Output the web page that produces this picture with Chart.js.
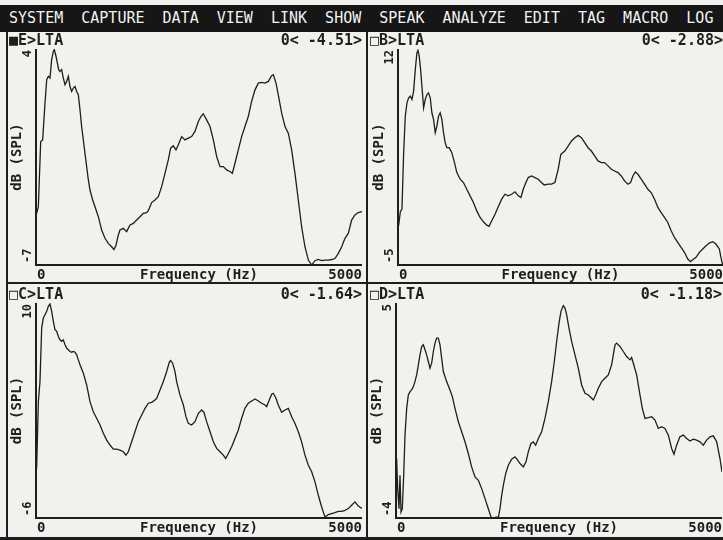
<!DOCTYPE html>
<html>
<head>
<meta charset="utf-8">
<script src="https://cdn.jsdelivr.net/npm/chart.js@4"></script>
<style>
  html, body { margin: 0; padding: 0; width: 723px; height: 540px; overflow: hidden; background: #f1f1ee; }
  #menu { position: absolute; left: 0; top: 5px; width: 723px; height: 27px; background: #161616; color: #f2f2f2;
          font: 15px "DejaVu Sans Mono", monospace; line-height: 27px; white-space: pre; }
  .rule { position: absolute; background: #1d1d1d; }
  canvas { position: absolute; left: 0; top: 0; }
</style>
</head>
<body>
<div id="menu"> SYSTEM  CAPTURE  DATA  VIEW  LINK  SHOW  SPEAK  ANALYZE  EDIT  TAG  MACRO  LOG</div>
<div class="rule" style="left:6px;top:32px;width:2px;height:508px"></div>
<div class="rule" style="left:366px;top:32px;width:2px;height:508px"></div>
<div class="rule" style="left:6px;top:282px;width:717px;height:2px"></div>
<div class="rule" style="left:0;top:537px;width:723px;height:3px"></div>
<canvas id="cE" width="723" height="540"></canvas>
<canvas id="cB" width="723" height="540"></canvas>
<canvas id="cC" width="723" height="540"></canvas>
<canvas id="cD" width="723" height="540"></canvas>
<script>
// Long-term average spectra, four channels: frequency (Hz) and level (dB SPL)
const freqRange = [0, 5000];
const freqTickLabels = ['0', '5000'];
const freqTitle = 'Frequency (Hz)';
const levelTitle = 'dB (SPL)';

// Channel E
const eTitle = '\u25A0E>LTA';
const eReadout = '0< -4.51>';
const eRange = [-7, 4];
const eFreq = [10,36,72,102,138,164,189,215,240,266,
  281,307,327,348,368,394,419,445,470,496,
  521,547,573,598,624,649,675,700,726,751,
  777,803,828,869,905,956,1007,1058,1109,1160,
  1196,1227,1263,1288,1339,1390,1442,1493,1544,1595,
  1646,1697,1723,1774,1825,1876,1927,1978,2029,2065,
  2106,2147,2183,2234,2285,2336,2387,2438,2490,2530,
  2566,2617,2669,2720,2771,2822,2873,2924,2975,3011,
  3052,3103,3154,3205,3256,3307,3359,3410,3461,3512,
  3563,3614,3640,3681,3716,3768,3819,3870,3921,3972,
  4023,4074,4125,4177,4228,4279,4330,4381,4432,4483,
  4534,4585,4637,4688,4739,4790,4841,4892,4943,5000];
const eDb = [-4.37,-4.03,-0.71,-0.63,1.24,2.44,2.61,2.52,3.46,3.88,
  3.97,3.63,3.29,2.95,2.86,2.95,2.52,2.18,2.35,2.61,
  2.09,1.84,2.01,2.09,1.84,1.67,0.90,0.05,-0.63,-1.31,
  -1.99,-2.67,-3.18,-3.69,-4.03,-4.54,-5.22,-5.64,-5.90,-6.07,
  -6.21,-5.99,-5.47,-5.22,-5.13,-5.30,-4.96,-4.88,-4.71,-4.54,
  -4.37,-4.33,-4.23,-3.82,-3.69,-3.52,-3.01,-2.33,-1.65,-1.05,
  -0.93,-1.14,-0.88,-0.46,-0.63,-0.54,-0.46,-0.20,0.31,0.56,
  0.70,0.39,0.05,-0.63,-1.48,-1.99,-1.99,-2.16,-2.24,-2.33,
  -1.82,-1.14,-0.46,0.05,0.56,1.33,1.92,2.26,2.30,2.26,
  2.35,2.64,2.69,2.26,1.67,0.73,0.05,-0.29,-1.14,-2.33,
  -3.69,-5.05,-6.07,-6.75,-7.00,-6.78,-6.72,-6.78,-6.75,-6.75,
  -6.72,-6.67,-6.41,-6.07,-5.64,-5.39,-4.71,-4.45,-4.33,-4.28];

// Channel B
const bTitle = '\u25A1B>LTA';
const bReadout = '0< -2.88>';
const bRange = [-5, 12];
const bFreq = [10,36,61,87,112,138,164,189,215,240,
  266,291,307,327,348,368,394,419,445,470,
  496,521,547,573,598,624,649,675,700,726,
  751,787,828,869,905,956,1007,1058,1109,1160,
  1212,1263,1314,1365,1401,1442,1493,1544,1595,1646,
  1697,1748,1799,1851,1891,1927,1968,2004,2055,2106,
  2157,2208,2249,2311,2362,2413,2464,2505,2566,2617,
  2669,2720,2771,2822,2873,2924,2975,3026,3077,3129,
  3180,3231,3282,3333,3384,3435,3486,3538,3578,3614,
  3650,3691,3742,3793,3844,3895,3947,3998,4049,4100,
  4151,4202,4253,4304,4355,4407,4458,4499,4534,4585,
  4637,4688,4739,4790,4841,4892,4943,4984,5000];
const bDb = [-1.91,-0.81,-0.60,3.84,6.72,7.76,8.16,8.29,8.03,8.68,
  10.38,11.69,11.90,11.42,10.38,9.07,7.37,8.03,8.42,8.55,
  8.16,6.98,6.46,5.41,5.93,6.72,6.98,6.46,5.41,4.63,
  4.23,4.23,3.84,3.06,2.27,1.75,1.49,0.96,0.44,-0.08,
  -0.74,-1.26,-1.60,-1.86,-1.96,-1.52,-1.00,-0.40,0.18,0.57,
  0.44,0.57,0.76,0.44,0.31,0.96,1.49,1.88,2.01,1.88,
  1.75,1.49,1.30,1.36,1.36,1.49,2.53,3.71,3.97,4.36,
  4.76,5.02,5.20,5.02,4.63,4.23,3.97,3.58,3.19,3.06,
  3.06,2.80,2.53,2.40,2.27,2.01,1.62,1.36,1.49,2.01,
  2.32,2.14,1.75,1.36,0.96,0.70,0.18,-0.47,-0.87,-1.26,
  -1.65,-2.30,-2.83,-3.22,-3.61,-4.00,-4.53,-4.74,-4.58,-4.40,
  -4.00,-3.74,-3.48,-3.27,-3.17,-3.35,-3.74,-4.79,-5.00];

// Channel C
const cTitle = '\u25A1C>LTA';
const cReadout = '0< -1.64>';
const cRange = [-6, 10];
const cFreq = [10,36,61,87,112,138,164,189,215,240,
  266,291,317,343,368,394,419,445,470,496,
  521,547,573,598,624,649,675,726,777,828,
  879,930,982,1033,1084,1135,1186,1237,1288,1339,
  1380,1416,1467,1518,1569,1621,1672,1723,1774,1825,
  1851,1902,1953,2004,2045,2065,2096,2132,2157,2208,
  2260,2300,2336,2387,2438,2490,2541,2576,2617,2669,
  2720,2771,2822,2873,2909,2950,3001,3052,3103,3154,
  3205,3256,3308,3359,3410,3461,3512,3538,3578,3614,
  3640,3681,3716,3768,3819,3870,3921,3972,4023,4074,
  4125,4177,4228,4279,4330,4381,4432,4483,4534,4585,
  4637,4688,4739,4790,4841,4892,4943,5000];
const cDb = [-2.32,2.66,4.15,8.13,8.88,9.13,9.38,9.75,9.93,9.38,
  8.63,8.01,7.89,7.51,7.26,7.14,7.26,6.89,6.64,6.52,
  6.39,6.34,6.39,6.34,6.14,5.77,5.40,4.78,3.90,2.66,
  1.91,1.42,0.92,0.30,-0.20,-0.57,-0.87,-0.87,-0.95,-1.07,
  -1.32,-1.07,-0.33,0.42,1.17,1.67,2.16,2.54,2.61,2.78,
  2.91,3.53,4.15,4.90,5.60,5.72,5.52,4.90,4.15,3.16,
  2.41,1.54,1.04,0.92,1.17,1.79,2.04,1.86,1.17,0.42,
  -0.33,-0.82,-1.07,-1.32,-1.57,-1.20,-0.70,-0.08,0.55,1.42,
  2.16,2.54,2.71,2.86,2.71,2.54,2.41,2.29,2.78,3.21,
  3.28,2.91,2.41,1.86,2.04,2.16,1.54,1.04,0.42,-0.33,
  -1.32,-2.07,-2.56,-3.31,-4.31,-5.18,-5.92,-5.75,-5.67,-5.60,
  -5.50,-5.50,-5.43,-5.30,-5.05,-4.80,-5.10,-5.30];

// Channel D
const dTitle = '\u25A1D>LTA';
const dReadout = '0< -1.18>';
const dRange = [-4, 5];
const dFreq = [10,26,46,61,77,97,118,138,164,189,
  215,240,266,291,317,343,368,394,419,445,
  470,496,521,547,573,598,624,649,675,700,
  726,777,828,864,905,956,1007,1058,1109,1160,
  1212,1263,1314,1365,1416,1457,1493,1534,1570,1595,
  1621,1646,1682,1723,1774,1825,1866,1902,1953,1994,
  2029,2070,2106,2142,2183,2234,2285,2336,2387,2428,
  2464,2500,2530,2566,2592,2617,2653,2694,2745,2796,
  2847,2899,2950,3001,3026,3062,3103,3154,3205,3256,
  3307,3359,3384,3435,3486,3537,3589,3614,3640,3691,
  3742,3778,3819,3870,3921,3972,4023,4074,4125,4177,
  4228,4263,4304,4355,4407,4458,4509,4560,4611,4662,
  4713,4764,4816,4867,4918,4969,5000];
const dDb = [-1.51,-2.77,-3.61,-2.21,-3.75,-3.61,-2.21,-0.53,0.59,1.15,
  1.29,1.36,1.50,1.71,1.99,2.41,2.83,3.18,3.25,3.04,
  2.83,2.55,2.27,2.48,2.97,3.32,3.53,3.53,3.25,2.69,
  2.13,1.71,1.36,1.08,0.59,0.03,-0.39,-0.81,-1.30,-1.86,
  -2.28,-2.42,-2.77,-3.19,-3.61,-3.96,-4.00,-3.96,-3.96,-3.61,
  -3.05,-2.63,-2.14,-1.79,-1.54,-1.44,-1.58,-1.72,-1.86,-1.65,
  -1.23,-0.88,-0.81,-0.95,-0.67,-0.39,0.17,0.87,1.71,2.55,
  3.39,4.16,4.65,4.89,4.79,4.51,3.95,3.39,2.83,2.27,
  1.57,1.22,1.15,1.01,0.94,1.15,1.43,1.71,1.85,1.99,
  2.41,3.25,3.32,3.18,2.97,2.76,2.62,2.72,2.48,1.99,
  1.15,0.59,0.17,0.20,0.24,0.10,-0.25,-0.18,-0.25,-0.53,
  -1.09,-1.33,-0.95,-0.60,-0.53,-0.67,-0.78,-0.70,-0.74,-0.81,
  -0.95,-0.74,-0.60,-0.56,-0.81,-1.51,-2.07];

const W = 723, H = 540;
const INK = '#1e1e1e';
const MONO = '"DejaVu Sans Mono", monospace';

// Draws the axis lines, the end-point tick labels, axis titles and the window caption
const panelPlugin = {
  id: 'panel',
  afterDraw(chart, args, opts) {
    const { ctx, chartArea: a, scales: { x, y } } = chart;
    ctx.save();
    ctx.strokeStyle = INK;
    ctx.fillStyle = INK;
    ctx.lineWidth = 2;
    ctx.beginPath();
    ctx.moveTo(a.left, a.top);
    ctx.lineTo(a.left, a.bottom);
    ctx.lineTo(a.right, a.bottom);
    ctx.stroke();

    // caption row
    ctx.font = 'bold 15px ' + MONO;
    ctx.textBaseline = 'middle';
    ctx.textAlign = 'left';
    ctx.fillText(opts.title, opts.titleX, a.top - 8);
    ctx.textAlign = 'right';
    ctx.fillText(opts.readout, a.right, a.top - 8);

    // frequency axis labels
    const ly = a.bottom + 10;
    ctx.font = 'bold 14px ' + MONO;
    ctx.textAlign = 'left';
    ctx.fillText(freqTickLabels[0], x.getPixelForValue(freqRange[0]) + 1, ly);
    ctx.textAlign = 'right';
    ctx.fillText(freqTickLabels[1], x.getPixelForValue(freqRange[1]), ly);
    ctx.textAlign = 'center';
    ctx.fillText(freqTitle, (a.left + a.right) / 2, ly);

    // level axis labels, rotated
    ctx.font = 'bold 12px ' + MONO;
    ctx.save();
    ctx.translate(a.left - 8, y.getPixelForValue(y.max) + 1);
    ctx.rotate(-Math.PI / 2);
    ctx.textAlign = 'right';
    ctx.fillText(String(y.max), 0, 0);
    ctx.restore();
    ctx.save();
    ctx.translate(a.left - 8, y.getPixelForValue(y.min) - 2);
    ctx.rotate(-Math.PI / 2);
    ctx.textAlign = 'left';
    ctx.fillText(String(y.min), 0, 0);
    ctx.restore();
    ctx.save();
    ctx.font = 'bold 14px ' + MONO;
    ctx.translate(a.left - 19, (a.top + a.bottom) / 2);
    ctx.rotate(-Math.PI / 2);
    ctx.textAlign = 'center';
    ctx.fillText(levelTitle, 0, 0);
    ctx.restore();
    ctx.restore();
  }
};

function makePanel(id, freq, db, range, title, readout, area) {
  const points = freq.map((f, i) => ({ x: f, y: db[i] }));
  return new Chart(document.getElementById(id), {
    type: 'line',
    data: { datasets: [{ data: points, borderColor: INK, borderWidth: 1.3, pointRadius: 0, tension: 0, fill: false }] },
    options: {
      responsive: false,
      animation: false,
      events: [],
      layout: { padding: { left: area.left, top: area.top, right: W - area.right, bottom: H - area.bottom } },
      scales: {
        x: { type: 'linear', min: freqRange[0], max: freqRange[1], display: false },
        y: { type: 'linear', min: range[0], max: range[1], display: false }
      },
      plugins: {
        legend: { display: false },
        tooltip: { enabled: false },
        panel: { title: title, readout: readout, titleX: area.titleX }
      }
    },
    plugins: [panelPlugin]
  });
}

makePanel('cE', eFreq, eDb, eRange, eTitle, eReadout, { left: 36, right: 362, top: 49, bottom: 265, titleX: 9 });
makePanel('cB', bFreq, bDb, bRange, bTitle, bReadout, { left: 398, right: 723, top: 49, bottom: 265, titleX: 370 });
makePanel('cC', cFreq, cDb, cRange, cTitle, cReadout, { left: 36, right: 362, top: 303, bottom: 518, titleX: 9 });
makePanel('cD', dFreq, dDb, dRange, dTitle, dReadout, { left: 396, right: 722, top: 303, bottom: 518, titleX: 370 });
</script>
</body>
</html>
